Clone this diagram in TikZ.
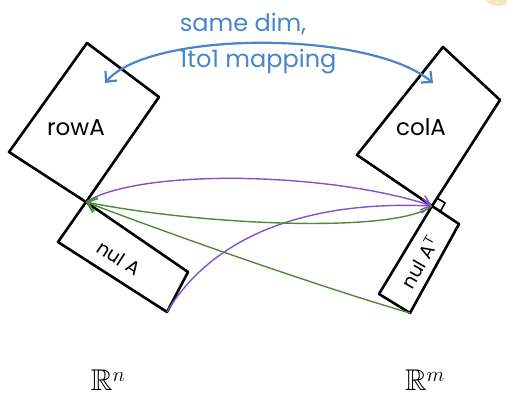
\documentclass[tikz,border=0pt]{standalone}
\usepackage{amssymb}
\usepackage{fontspec}
\setmainfont{Poppins}
\usetikzlibrary{arrows.meta}
\definecolor{hblue}{HTML}{4A85C9}
\definecolor{hpurple}{HTML}{7D55C7}
\definecolor{hgreen}{HTML}{4E8A3E}
\definecolor{hsun}{HTML}{F6E8BE}
\begin{document}
\begin{tikzpicture}[x=1pt,y=-1pt,
  box/.style={draw=black, line width=2.6pt, line join=round, line cap=round},
  lbl/.style={font=\fontsize{23}{26}\selectfont, inner sep=0pt},
  slbl/.style={font=\fontsize{19}{22}\selectfont, inner sep=0pt},
  bluelbl/.style={font=\fontsize{24}{27}\selectfont, text=hblue, inner sep=0pt},
  sp/.style={font=\fontsize{30}{34}\selectfont, inner sep=0pt},
  bluearr/.style={draw=hblue, line width=2.2pt, line cap=round, {Straight Barb[length=8pt,width=15pt]}-{Straight Barb[length=8pt,width=15pt]}},
  purparr/.style={draw=hpurple, line width=1.4pt, -{Straight Barb[length=9pt,width=15pt]}},
  greenarr/.style={draw=hgreen, line width=1.4pt, -{Straight Barb[length=9pt,width=15pt]}},
]
\useasboundingbox (0,0) rectangle (507,402);
\fill[hsun] (498,-10) circle (16pt);

% key points
\coordinate (O1) at (86,202);
\coordinate (O2) at (432,206);
\coordinate (N1) at (167,312);
\coordinate (N2) at (410,313);
\coordinate (B1) at (105,83);
\coordinate (B2) at (433,83);

% left subspaces
\draw[box] (87,43) -- (159,97) -- (O1) -- (9,152) -- cycle;
\draw[box] (O1) -- (188,272) -- (N1) -- (58,242) -- cycle;
% right subspaces
\draw[box] (443,47) -- (500,100) -- (O2) -- (357,155) -- cycle;
\draw[box] (O2) -- (459,224) -- (N2) -- (379,294) -- cycle;
% right angle mark
\draw[black, line width=1.6pt] (437,198) -- (445,203) -- (440,212);

% labels
\node[lbl] (rowA) at (76,128) {rowA};
\node[lbl] (colA) at (421,127) {colA};
\node[slbl, rotate=-33] (nulA) at (119,258) {nul A};
\node[slbl, rotate=60] (nulAT) at (420,262) {nul A$^{\mathsf{T}}$};
\node[sp] (Rn) at (108,380) {$\mathbb{R}^n$};
\node[sp] (Rm) at (425,380) {$\mathbb{R}^m$};
\node[bluelbl] (same) at (243,24) {same dim,};
\node[bluelbl] (map) at (258,62) {1to1 mapping};

% blue double arrow
\draw[bluearr] (B1) .. controls (150,30) and (370,30) .. (B2);

% purple arrows
\draw[purparr] (O1) .. controls (140,168) and (330,172) .. (O2);
\draw[purparr] (N1) .. controls (210,240) and (300,200) .. (O2);

% green arrows
\draw[greenarr] (O2) .. controls (395,234) and (200,225) .. (O1);
\draw[greenarr] (N2) .. controls (330,290) and (180,238) .. (O1);
\end{tikzpicture}
\end{document}
